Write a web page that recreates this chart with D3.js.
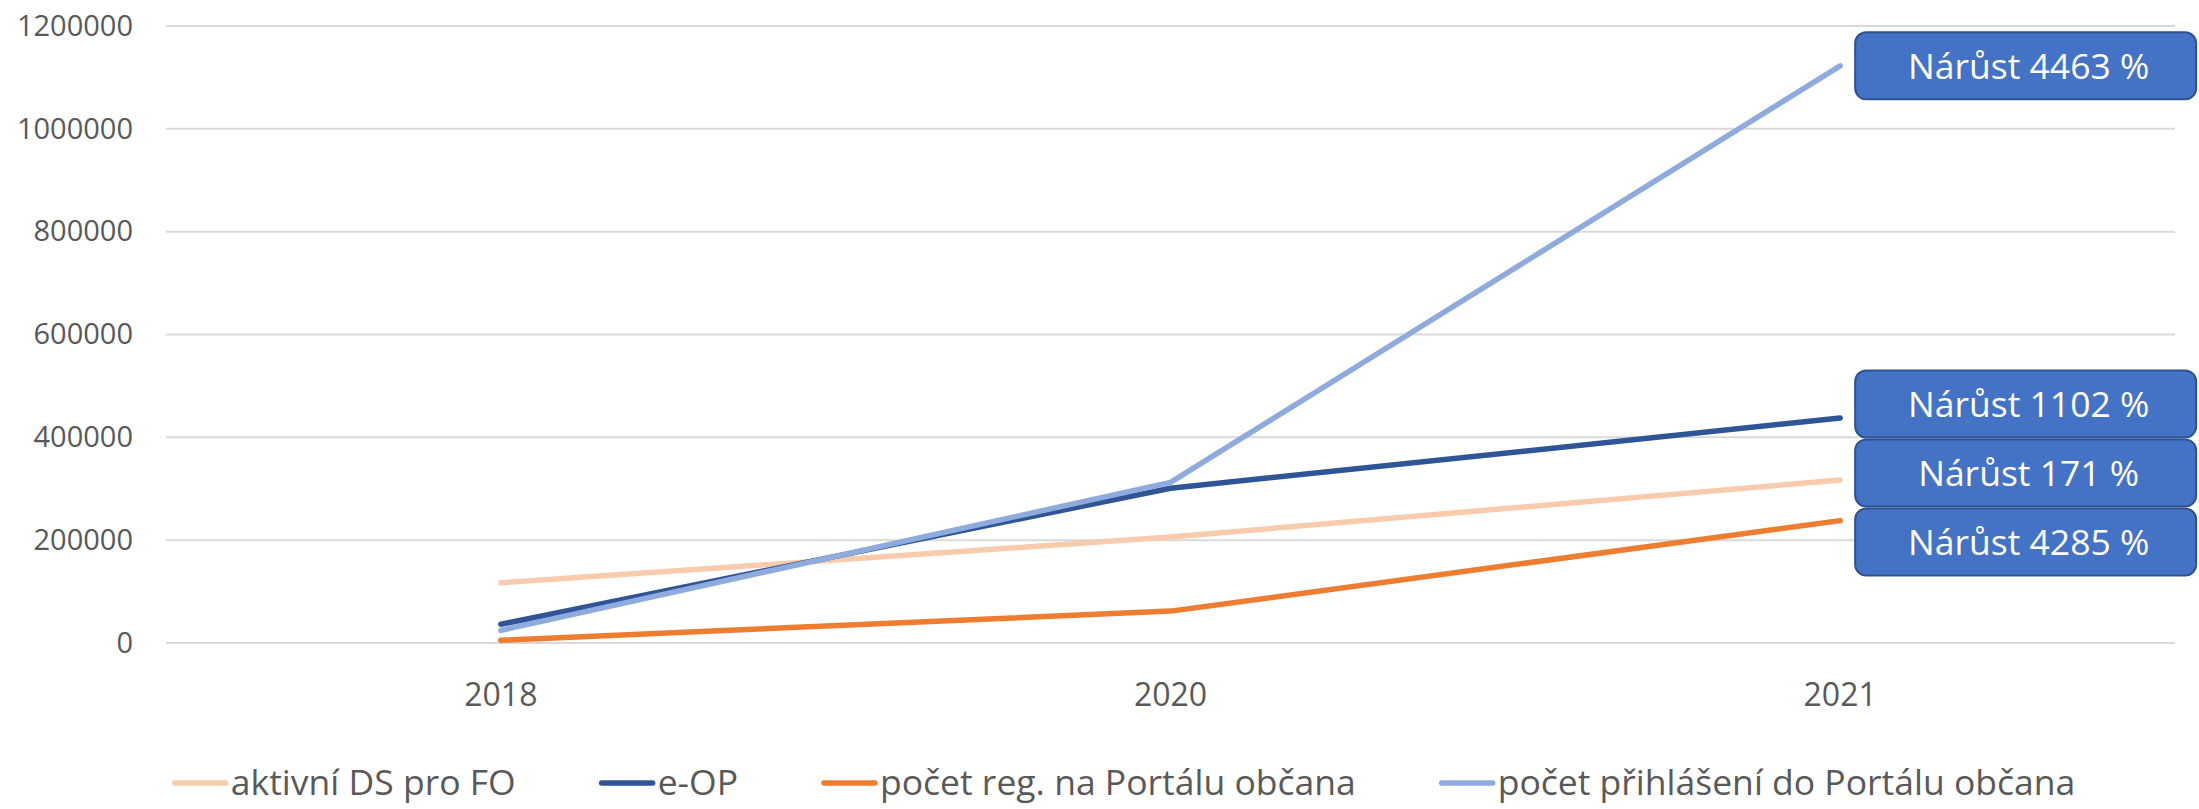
<!DOCTYPE html>
<html><head><meta charset="utf-8">
<script src="https://cdn.jsdelivr.net/npm/d3@7"></script>
<style>
html,body{margin:0;padding:0;background:#fff;}
svg{display:block;font-family:"Open Sans","Noto Sans",sans-serif;}
</style></head>
<body><svg id="chart" width="2199" height="809"></svg>
<script>
const categories = ["2018", "2020", "2021"];
const seriesNames = ["aktivní DS pro FO", "e-OP", "počet reg. na Portálu občana", "počet přihlášení do Portálu občana"];
const aktivniDS = [117000, 206000, 317000];
const eOP = [36400, 301000, 437500];
const pocetReg = [5430, 62000, 238000];
const pocetPrihlaseni = [24600, 312500, 1122500];
const growthLabels = ["Nárůst 171 %", "Nárůst 1102 %", "Nárůst 4285 %", "Nárůst 4463 %"];
const yTicks = [0, 200000, 400000, 600000, 800000, 1000000, 1200000];
const colors = ["#F8CBAD", "#2F5597", "#ED7D31", "#8FAADC"];

const series = seriesNames.map((n, i) => ({name: n, values: [aktivniDS, eOP, pocetReg, pocetPrihlaseni][i], color: colors[i], label: growthLabels[i]}));

const svg = d3.select("#chart");
const x = d3.scaleBand().domain(categories).range([166, 2175]);
const xc = c => x(c) + x.bandwidth() / 2;
const y = d3.scaleLinear().domain([0, 1200000]).range([643, 26]);

// gridlines
svg.append("g").selectAll("line").data(yTicks).join("line")
  .attr("x1", 166).attr("x2", 2175)
  .attr("y1", d => y(d)).attr("y2", d => y(d))
  .attr("stroke", "#D9D9D9").attr("stroke-width", 2);

// y axis labels
const yAxis = d3.axisLeft(y).tickValues(yTicks).tickSize(0).tickPadding(0).tickFormat(d3.format("d"));
const gy = svg.append("g").attr("transform", "translate(133,0)").call(yAxis);
gy.select(".domain").remove();
gy.selectAll("text").attr("font-size", 29).attr("fill", "#595959").attr("font-family", "'Open Sans'");

// x axis labels
const xAxis = d3.axisBottom(x).tickSize(0).tickPadding(0);
const gx = svg.append("g").attr("transform", "translate(0,683)").call(xAxis);
gx.select(".domain").remove();
gx.selectAll("text").attr("font-size", 32).attr("fill", "#595959").attr("font-family", "'Open Sans'");

// lines
const line = d3.line().x((d, i) => xc(categories[i])).y(d => y(d));
svg.append("g").selectAll("path").data(series).join("path")
  .attr("d", d => line(d.values))
  .attr("fill", "none").attr("stroke", d => d.color)
  .attr("stroke-width", 5.5).attr("stroke-linecap", "round").attr("stroke-linejoin", "round");

// growth labels with collision avoidance
const boxH = 69, boxW = 343;
const last = categories.length - 1;
let items = series.map(s => ({s, pref: y(s.values[last])})).sort((a, b) => a.pref - b.pref);
let clusters = items.map(it => ({items: [it], center: it.pref}));
let merged = true;
while (merged) {
  merged = false;
  for (let i = 0; i < clusters.length - 1; i++) {
    const a = clusters[i], b = clusters[i + 1];
    const aBottom = a.center + a.items.length * boxH / 2;
    const bTop = b.center - b.items.length * boxH / 2;
    if (aBottom > bTop) {
      const all = a.items.concat(b.items);
      const c = d3.mean(all, d => d.pref);
      clusters.splice(i, 2, {items: all, center: c});
      merged = true; break;
    }
  }
}
clusters.forEach(c => {
  const n = c.items.length;
  c.items.forEach((it, k) => { it.cy = c.center + (k - (n - 1) / 2) * boxH; });
});
const bx = xc(categories[last]) + 14;
const lg = svg.append("g").selectAll("g").data(items).join("g")
  .attr("transform", d => `translate(${bx},${d.cy - boxH / 2})`);
lg.append("rect").attr("x", 1).attr("y", 1).attr("width", boxW - 2).attr("height", boxH - 2)
  .attr("rx", 11).attr("ry", 11)
  .attr("fill", "#4472C4").attr("stroke", "#2F528F").attr("stroke-width", 2);
lg.append("text").attr("x", boxW / 2 + 3).attr("y", boxH / 2).attr("dy", "0.36em")
  .attr("text-anchor", "middle").attr("fill", "#fff").attr("font-size", 35.5)
  .text(d => d.s.label);

// legend
const legG = svg.append("g").attr("transform", "translate(0,783)");
const legItems = legG.selectAll("g").data(series).join("g");
legItems.append("line").attr("x1", 2).attr("x2", 53).attr("y1", 0).attr("y2", 0)
  .attr("stroke", d => d.color).attr("stroke-width", 5.5).attr("stroke-linecap", "round");
legItems.append("text").attr("x", 58).attr("y", 0).attr("dy", "0.35em")
  .attr("font-size", 35.5).attr("fill", "#595959").text(d => d.name);
let widths = [];
legItems.each(function() { widths.push(58 + d3.select(this).select("text").node().getComputedTextLength()); });
const gap = 84;
const total = d3.sum(widths) + gap * (widths.length - 1);
let cx = 1124 - total / 2;
legItems.attr("transform", (d, i) => { const t = `translate(${cx},0)`; cx += widths[i] + gap; return t; });
</script></body></html>
